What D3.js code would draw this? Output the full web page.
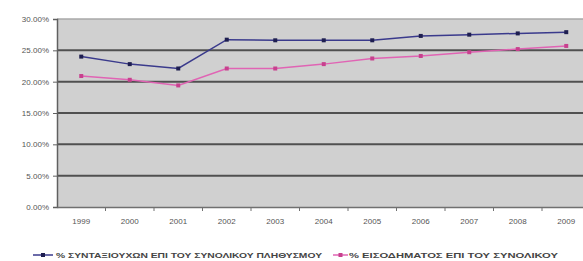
<!doctype html>
<html lang="el">
<head>
<meta charset="utf-8">
<title>ΣΥΝΤΑΞΙΟΥΧΟΙ</title>
<script src="https://cdn.jsdelivr.net/npm/d3@7"></script>
<style>
  body { margin: 0; background: #fff; }
  text { font-family: "Liberation Sans", Arial, sans-serif; }
</style>
</head>
<body>
<script>

var years = ["1999", "2000", "2001", "2002", "2003", "2004", "2005", "2006", "2007", "2008", "2009"];
var pensioners = [24.0, 22.8, 22.1, 26.7, 26.6, 26.6, 26.6, 27.3, 27.5, 27.7, 27.9];
var income = [20.9, 20.3, 19.4, 22.1, 22.1, 22.8, 23.7, 24.1, 24.7, 25.2, 25.7];
var yTicks = [0, 5, 10, 15, 20, 25, 30];
var seriesNames = ["% ΣΥΝΤΑΞΙΟΥΧΩΝ ΕΠΙ ΤΟΥ ΣΥΝΟΛΙΚΟΥ ΠΛΗΘΥΣΜΟΥ", "% ΕΙΣΟΔΗΜΑΤΟΣ ΕΠΙ ΤΟΥ ΣΥΝΟΛΙΚΟΥ"];

var width = 583, height = 261;
var plotLeft = 57, plotTop = 19, plotBottom = 207;
var band = 48.5;

var svg = d3.select("body").append("svg")
    .attr("width", width).attr("height", height);

var x = d3.scaleBand().domain(years).range([plotLeft, plotLeft + band * years.length]);
var y = d3.scaleLinear().domain([0, 30]).range([plotBottom, plotTop]);

// plot background
svg.append("rect")
    .attr("x", plotLeft).attr("y", plotTop)
    .attr("width", band * years.length).attr("height", plotBottom - plotTop)
    .attr("fill", "#d0d0d0");

// gridlines
svg.selectAll(".grid").data(yTicks.slice(1)).enter().append("line")
    .attr("x1", plotLeft).attr("x2", width)
    .attr("y1", function(d){ return y(d); }).attr("y2", function(d){ return y(d); })
    .attr("stroke", function(d){ return d == 30 ? "#a8a8a8" : "#505050"; })
    .attr("stroke-width", function(d){ return d == 30 ? 1.5 : 2; });

// y axis
var yAxis = d3.axisLeft(y).tickValues(yTicks).tickSize(4).tickPadding(4)
    .tickFormat(function(d){ return d.toFixed(2) + "%"; });
var gy = svg.append("g").attr("transform", "translate(" + plotLeft + ",0)").call(yAxis);
gy.select(".domain").attr("stroke", "#606060").attr("stroke-width", 1.5);
gy.selectAll(".tick line").attr("stroke", "#606060");
gy.selectAll("text").attr("fill", "#555").style("font-size", "8px");

// x axis
var xAxis = d3.axisBottom(x).tickSize(0).tickPadding(11);
var gx = svg.append("g").attr("transform", "translate(0," + plotBottom + ")").call(xAxis);
gx.select(".domain").attr("stroke", "#707070").attr("stroke-width", 1.5);
gx.selectAll("text").attr("fill", "#555").style("font-size", "8px");
gx.selectAll(".sep").data(years.slice(1)).enter().append("line")
    .attr("x1", function(d){ return x(d); }).attr("x2", function(d){ return x(d); })
    .attr("y1", 0).attr("y2", 4).attr("stroke", "#707070");

var cx = function(d, i){ return x(years[i]) + x.bandwidth() / 2; };
var line = d3.line().x(cx).y(function(d){ return y(d); });

var series = [
    { values: pensioners, color: "#3a3a8c", marker: "#1e1e50" },
    { values: income, color: "#e064b4", marker: "#c8408e" }
];

series.forEach(function(s){
    svg.append("path").datum(s.values)
        .attr("d", line).attr("fill", "none")
        .attr("stroke", s.color).attr("stroke-width", 1.5);
    svg.selectAll(null).data(s.values).enter().append("rect")
        .attr("x", function(d, i){ return cx(d, i) - 2; })
        .attr("y", function(d){ return y(d) - 2; })
        .attr("width", 4).attr("height", 4)
        .attr("fill", s.marker);
});

// legend
var legendX = [33, 333];
var legendLen = [266, 209];
var ly = 255;
series.forEach(function(s, i){
    var g = svg.append("g").attr("transform", "translate(" + legendX[i] + "," + ly + ")");
    g.append("line").attr("x1", 0).attr("x2", i == 0 ? 20 : 15).attr("y1", 0).attr("y2", 0)
        .attr("stroke", s.color).attr("stroke-width", 1.5);
    g.append("rect").attr("x", (i == 0 ? 10 : 7.5) - 2).attr("y", -2).attr("width", 4).attr("height", 4)
        .attr("fill", s.marker);
    g.append("text").attr("x", i == 0 ? 23 : 16).attr("y", 3)
        .attr("textLength", legendLen[i]).attr("lengthAdjust", "spacingAndGlyphs")
        .style("font-size", "8px").style("font-weight", "bold").attr("fill", "#444")
        .text(seriesNames[i]);
});

</script>
</body>
</html>
